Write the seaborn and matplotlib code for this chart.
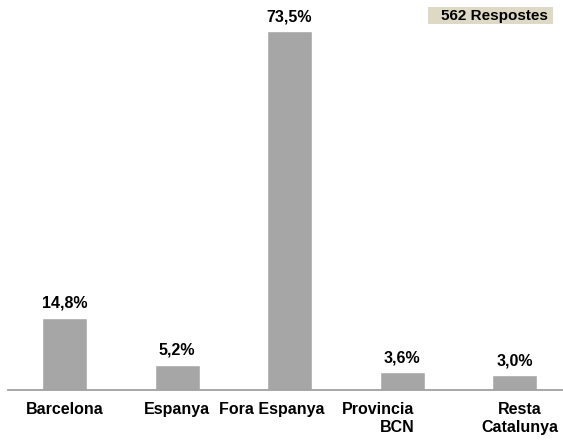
import matplotlib
matplotlib.use('Agg')
import matplotlib.pyplot as plt
import matplotlib.transforms as mtransforms
from matplotlib.patches import Rectangle
import seaborn as sns
import pandas as pd

categories = ['Barcelona', 'Espanya', 'Fora Espanya', 'Provincia\nBCN', 'Resta\nCatalunya']
values = [14.8, 5.2, 73.5, 3.6, 3.0]
value_labels = ['14,8%', '5,2%', '73,5%', '3,6%', '3,0%']
badge_text = '562 Respostes'

sns.set_style('white')
plt.rcParams['font.family'] = ['Liberation Sans', 'DejaVu Sans']

df = pd.DataFrame({'cat': categories, 'val': values})

W, H = 563, 442
fig = plt.figure(figsize=(W / 100, H / 100), dpi=100)
# axes: x from 8px to 571px (clipped at right), axis line at y=390px
ax = fig.add_axes([8.25 / W, 1 - 390 / H, 562.5 / W, 390.8 / H])

sns.barplot(data=df, x='cat', y='val', color='#A6A6A6', saturation=1, width=0.4, ax=ax)
ax.set_xlim(-0.5, 4.5)
ax.set_ylim(0, 80)

for bar, lab in zip(ax.patches, value_labels):
    ax.annotate(lab, (bar.get_x() + bar.get_width() / 2, bar.get_height()),
                xytext=(0, 5), textcoords='offset points', ha='center', va='bottom',
                fontsize=11.5, fontweight='bold', color='#000000')

ax.set_xlabel('')
ax.set_ylabel('')
ax.set_yticks([])
ax.tick_params(axis='x', length=0, pad=8.5)
ax.set_xticks(range(len(categories)))
ax.set_xticklabels(categories, fontsize=11.5, fontweight='bold', color='#000000',
                   linespacing=1.25)
# Excel-like label placement quirks
offsets = [0, 0, -18, -24, 5]
aligns = ['center', 'center', 'center', 'right', 'center']
for lbl, dx, al in zip(ax.get_xticklabels(), offsets, aligns):
    lbl.set_multialignment(al)
    lbl.set_transform(lbl.get_transform() + mtransforms.ScaledTranslation(dx / 100, 0, fig.dpi_scale_trans))

for s in ['top', 'right', 'left']:
    ax.spines[s].set_visible(False)
ax.spines['bottom'].set_color('#A0A0A0')
ax.spines['bottom'].set_linewidth(1.3)

# response count badge
fig.patches.append(Rectangle((428 / W, 1 - 24 / H), 125 / W, 17 / H, transform=fig.transFigure,
                             facecolor='#DDD9C4', edgecolor='none'))
fig.text(548 / W, 1 - 16 / H, badge_text, ha='right', va='center',
         fontsize=11, fontweight='bold', color='#000000')

fig.savefig('out.png', dpi=100)
